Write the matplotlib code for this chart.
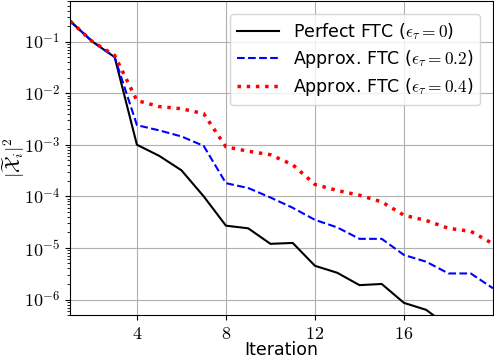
import numpy as np
import matplotlib
matplotlib.use('Agg')
import matplotlib.pyplot as plt

# 迭代次数与三条曲线的数值
iterations = np.arange(1, 21)
perfect_ftc = [0.25, 0.1, 0.05, 1.0e-3, 6.1e-4, 3.2e-4, 1.0e-4, 2.7e-5, 2.4e-5, 1.2e-5,
               1.25e-5, 4.5e-6, 3.3e-6, 1.9e-6, 2.0e-6, 8.6e-7, 6.3e-7, 3.0e-7, 1.5e-7, 8.0e-8]
approx_ftc_02 = [0.25, 0.1, 0.05, 2.4e-3, 1.9e-3, 1.45e-3, 9.5e-4, 1.8e-4, 1.45e-4, 9.5e-5,
                 6.0e-5, 3.5e-5, 2.5e-5, 1.5e-5, 1.5e-5, 7.3e-6, 5.4e-6, 3.2e-6, 3.2e-6, 1.65e-6]
approx_ftc_04 = [0.25, 0.1, 0.054, 7.2e-3, 5.5e-3, 5.0e-3, 4.0e-3, 9.1e-4, 7.5e-4, 6.4e-4,
                 4.1e-4, 1.7e-4, 1.3e-4, 1.05e-4, 7.8e-5, 4.3e-5, 3.4e-5, 2.4e-5, 2.1e-5, 1.2e-5]

labels = [r'Perfect FTC ($\epsilon_\tau = 0$)',
          r'Approx. FTC ($\epsilon_\tau = 0.2$)',
          r'Approx. FTC ($\epsilon_\tau = 0.4$)']

plt.rcParams['mathtext.fontset'] = 'cm'
plt.rcParams['font.family'] = ['DejaVu Sans']

fig = plt.figure(figsize=(4.94, 3.58), dpi=100)
ax = fig.add_axes([0.142, 0.12, 0.856, 0.878])

ax.plot(iterations, perfect_ftc, color='black', linestyle='-', linewidth=1.5, label=labels[0])
ax.plot(iterations, approx_ftc_02, color='blue', linestyle='--', linewidth=1.5, label=labels[1])
ax.plot(iterations, approx_ftc_04, color='red', linestyle=':', linewidth=2.5, label=labels[2])

ax.set_yscale('log')  # y轴对数坐标
ax.set_xlim(1, 20)
ax.set_ylim(5e-7, 0.62)
ax.set_xticks([4, 8, 12, 16])
ax.set_yticks([1e-1, 1e-2, 1e-3, 1e-4, 1e-5, 1e-6])
ax.set_yticklabels([r'$10^{-1}$', r'$10^{-2}$', r'$10^{-3}$', r'$10^{-4}$', r'$10^{-5}$', r'$10^{-6}$'])
ax.set_xticklabels([r'$4$', r'$8$', r'$12$', r'$16$'])
ax.tick_params(labelsize=13)
ax.grid(True, which='major', color='#b0b0b0', linewidth=0.8)

ax.set_xlabel('Iteration', fontsize=12.5, labelpad=-1)
ax.set_ylabel(r'$|\widetilde{\mathcal{X}}_i|^2$', fontsize=14, labelpad=0)
ax.yaxis.set_label_coords(-0.103, 0.5)

ax.legend(loc='upper right', fontsize=12.5, handlelength=2.4, borderpad=0.4, labelspacing=0.35,
          bbox_to_anchor=(0.99, 0.985))

fig.savefig('out.png', dpi=100)
